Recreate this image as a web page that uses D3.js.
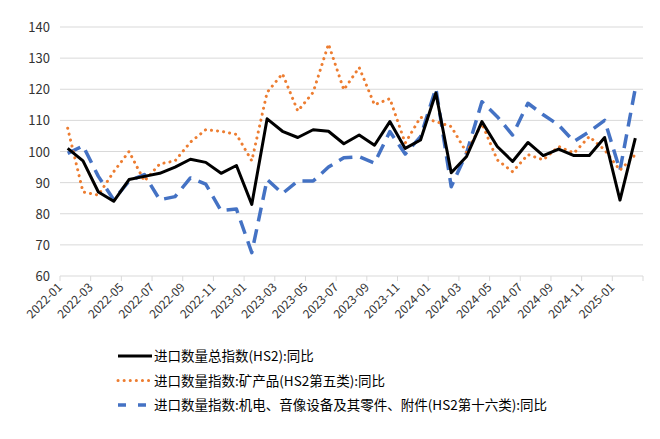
<!DOCTYPE html><html><head><meta charset="utf-8">
<script src="https://cdn.jsdelivr.net/npm/d3@7"></script>
<style>body{margin:0;background:#fff}text{font-family:"Noto Sans CJK SC","Noto Sans",sans-serif}</style></head><body>
<svg id="c" width="660" height="439"></svg>
<script>
const months=[];for(let y=2022;y<=2025;y++)for(let m=1;m<=12;m++){if(y===2025&&m>2)break;months.push(y+"-"+String(m).padStart(2,"0"));}
const total=[101,97,87,84,91,92,93,95,97.5,96.5,93,95.5,83,110.5,106.5,104.5,107,106.5,102.5,105.3,102,109.6,101,103.7,118.8,93.2,98.4,109.6,101.6,96.8,102.9,98.7,100.8,98.7,98.7,104.5,84.4,104.3];
const mineral=[107.5,87,86,93.5,100,90.5,96,97,103,107,106.5,105.5,97,119,125,113,119,134.5,119.8,127,115,117,102.7,111,109.6,108,99.7,109,97.3,93.5,99,97.3,101.6,99.5,104.8,100.5,94,99];
const mech=[99.4,101.8,92,84.5,90.5,92.6,84.5,85.5,91.5,89.5,81,81.5,67.5,91,86.5,90.5,90.5,95,98,98.3,96.3,106.4,99.2,104.8,120.3,88.7,99.5,116,111.2,105.3,115.5,111.8,108.5,103.2,106.4,110,94,120.3];
const yTicks=[60,70,80,90,100,110,120,130,140];
const names=["进口数量总指数(HS2):同比","进口数量指数:矿产品(HS2第五类):同比","进口数量指数:机电、音像设备及其零件、附件(HS2第十六类):同比"];
const svg=d3.select("#c");
const x=d3.scaleBand().domain(months).range([60,643]);
const y=d3.scaleLinear().domain([60,140]).range([276,27]);
yTicks.forEach(t=>{svg.append("line").attr("x1",60).attr("x2",643).attr("y1",y(t)).attr("y2",y(t)).attr("stroke","#d9d9d9").attr("stroke-width",1);
svg.append("text").attr("x",50).attr("y",y(t)+5).attr("text-anchor","end").attr("font-size",13).attr("fill","#333").text(t);});
months.forEach((m,i)=>{if(i%2===0){svg.append("line").attr("x1",x(m)).attr("x2",x(m)).attr("y1",276).attr("y2",281).attr("stroke","#d9d9d9");
svg.append("text").attr("transform",`translate(${x(m)+3},${288}) rotate(-45)`).attr("text-anchor","end").attr("font-size",12).attr("fill","#333").text(m);}});
svg.append("line").attr("x1",643).attr("x2",643).attr("y1",276).attr("y2",281).attr("stroke","#d9d9d9");
const line=d3.line().x((d,i)=>x(months[i])+x.bandwidth()/2).y(d=>y(d));
const styles=[{c:"#000",w:3,d:null},{c:"#ED7D31",w:3,d:"0.1 6",cap:"round"},{c:"#4472C4",w:3.5,d:"14 8"}];
[total,mineral,mech].forEach((s,k)=>{}) ;
[mech,mineral,total].forEach((s,j)=>{const k=[2,1,0][j];const st=styles[k];
svg.append("path").attr("d",line(s)).attr("fill","none").attr("stroke",st.c).attr("stroke-width",st.w).attr("stroke-dasharray",st.d).attr("stroke-linecap",st.cap||"butt").attr("stroke-linejoin","round");});
names.forEach((n,k)=>{const st=styles[k];const yy=356+k*24.5;
svg.append("line").attr("x1",118).attr("x2",152).attr("y1",yy).attr("y2",yy).attr("stroke",st.c).attr("stroke-width",st.w).attr("stroke-dasharray",k===2?"8 12":st.d).attr("stroke-linecap",st.cap||"butt");
svg.append("text").attr("x",154).attr("y",yy+5).attr("font-size",13.5).attr("fill","#000").text(n);});
</script></body></html>
